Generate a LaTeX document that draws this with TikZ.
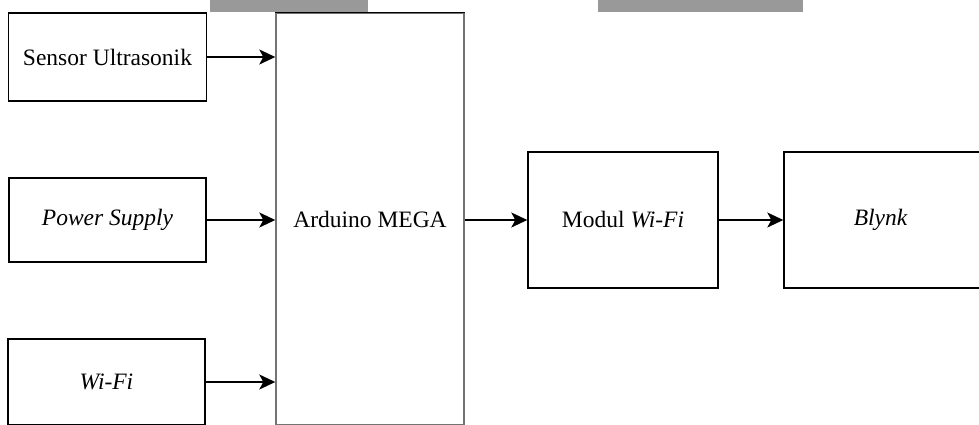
\documentclass[tikz,border=0pt]{standalone}
\usepackage{fontspec}
\setmainfont{Liberation Serif}
\usetikzlibrary{arrows.meta}
\definecolor{barcol}{gray}{0.6}
\definecolor{edgegray}{gray}{0.45}
\tikzset{
  blk/.style={draw=black, line width=1.4pt, fill=white, inner sep=0pt,
    font=\fontsize{23.5}{28}\selectfont},
  conn/.style={draw=black, line width=1.6pt, -{Stealth[length=16pt,width=15pt,inset=4pt]}},
  bar/.style={fill=barcol, draw=none}
}
\begin{document}
\begin{tikzpicture}[x=1pt,y=-1pt]
\useasboundingbox (0,0) rectangle (979,424);
\clip (0,0) rectangle (979,424);
\fill[white] (0,0) rectangle (979,424);
\path[bar] (210,0) rectangle (368,12);
\path[bar] (598,0) rectangle (803,12);
\node[blk, minimum width=198pt, minimum height=88pt] (sensor) at (107.5,57) {Sensor Ultrasonik};
\node[blk, minimum width=197pt, minimum height=84pt] (power) at (107.5,220) {\itshape Power Supply};
\node[blk, minimum width=197pt, minimum height=86pt] (wifi) at (106.5,382) {\itshape Wi-Fi};
\node[blk, draw=edgegray, minimum width=188pt, minimum height=412pt] (mega) at (370,219) {Arduino MEGA};
\node[blk, minimum width=190pt, minimum height=136pt] (modul) at (623,220) {Modul \textit{Wi-Fi}};
\node[blk, minimum width=210pt, minimum height=136pt] (blynk) at (889,220) {\itshape Blynk\rule{17pt}{0pt}};
\draw[black, line width=1.4pt] (mega.north west) -- (mega.north east);
\draw[conn] (sensor.east) -- (sensor.east -| mega.west);
\draw[conn] (power.east) -- (power.east -| mega.west);
\draw[conn] (wifi.east) -- (wifi.east -| mega.west);
\draw[conn] (mega.east |- modul.west) -- (modul.west);
\draw[conn] (modul.east) -- (blynk.west);
\end{tikzpicture}
\end{document}
